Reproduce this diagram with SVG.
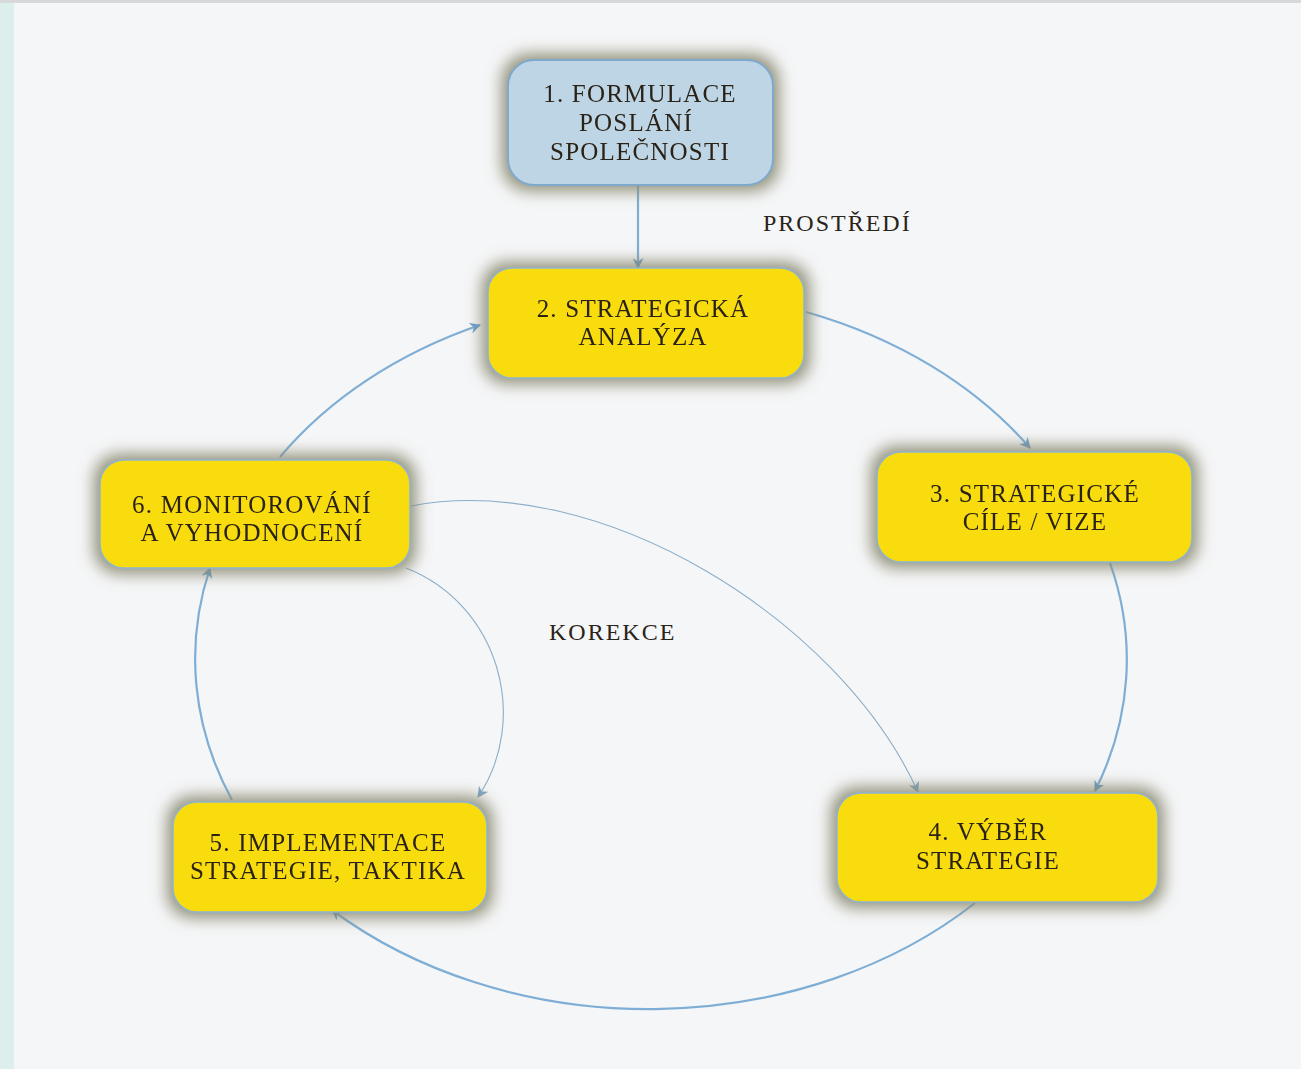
<svg xmlns="http://www.w3.org/2000/svg" width="1301" height="1069" viewBox="0 0 1301 1069">
<style>
.box{fill:#f9dc0c;stroke:#8fb3cf;stroke-width:1.5}
.box1{fill:#bed5e6;stroke:#7fa9cc;stroke-width:2}
.t{font-family:"Liberation Serif","Times New Roman",serif;font-size:25px;letter-spacing:1.2px;fill:#2a2418;text-anchor:middle}
.lab{font-family:"Liberation Serif","Times New Roman",serif;font-size:24px;letter-spacing:2px;fill:#2a2418}
.c{fill:none;stroke:#7eaed6;stroke-width:2.2;marker-end:url(#ah)}
.k{fill:none;stroke:#8aaecb;stroke-width:1.1;marker-end:url(#ahs)}
</style>
<defs>
<filter id="glow" x="-25%" y="-40%" width="150%" height="180%">
<feMorphology in="SourceAlpha" operator="dilate" radius="5" result="d"/>
<feGaussianBlur in="d" stdDeviation="8" result="b"/>
<feFlood flood-color="#8a8a72" flood-opacity="0.95"/>
<feComposite in2="b" operator="in" result="s"/>
<feMerge><feMergeNode in="s"/><feMergeNode in="SourceGraphic"/></feMerge>
</filter>
<marker id="ah" viewBox="0 0 10 10" refX="9" refY="5" markerWidth="5" markerHeight="5" orient="auto" markerUnits="strokeWidth">
<path d="M0,0 L10,5 L0,10 L3,5 Z" fill="#6a9fcc"/>
</marker>
<marker id="ahs" viewBox="0 0 10 10" refX="9" refY="5" markerWidth="10" markerHeight="10" orient="auto" markerUnits="strokeWidth">
<path d="M0,0 L10,5 L0,10 L3,5 Z" fill="#7fa6c6"/>
</marker>
</defs>
<rect x="0" y="0" width="1301" height="1069" fill="#f5f6f7"/>
<rect x="0" y="0" width="14" height="1069" fill="#dcefed"/>
<line x1="0" y1="1.5" x2="1301" y2="1.5" stroke="#d6d8da" stroke-width="3"/>

<g id="connectors">
<path class="c" d="M638,186 L638,268"/>
<path class="c" d="M806,312 A460 360 0 0 1 1030,448"/>
<path class="c" d="M1110,563 A460 360 0 0 1 1095,791"/>
<path class="c" d="M975,903 A460 360 0 0 1 332,910"/>
<path class="c" d="M232,800 A460 360 0 0 1 210,568"/>
<path class="c" d="M280,457 A460 360 0 0 1 480,325"/>
<path class="k" d="M411,506 C600,470 840,620 918,792"/>
<path class="k" d="M406,568 C500,605 530,720 478,797"/>
</g>

<g id="node1" filter="url(#glow)">
<rect class="box1" x="508" y="60" width="265" height="125" rx="26"/>
<text class="t" x="640" y="102">1. FORMULACE</text>
<text class="t" x="636" y="131">POSLÁNÍ</text>
<text class="t" x="640" y="160">SPOLEČNOSTI</text>
</g>
<g id="node2" filter="url(#glow)">
<rect class="box" x="488" y="268" width="316" height="110" rx="24"/>
<text class="t" x="643" y="317">2. STRATEGICKÁ</text>
<text class="t" x="643" y="345">ANALÝZA</text>
</g>
<g id="node3" filter="url(#glow)">
<rect class="box" x="877" y="452" width="315" height="110" rx="24"/>
<text class="t" x="1035" y="502">3. STRATEGICKÉ</text>
<text class="t" x="1035" y="530">CÍLE / VIZE</text>
</g>
<g id="node4" filter="url(#glow)">
<rect class="box" x="837" y="793" width="321" height="109" rx="24"/>
<text class="t" x="988" y="840">4. VÝBĚR</text>
<text class="t" x="988" y="869">STRATEGIE</text>
</g>
<g id="node5" filter="url(#glow)">
<rect class="box" x="173" y="802" width="314" height="110" rx="24"/>
<text class="t" x="328" y="851">5. IMPLEMENTACE</text>
<text class="t" x="328" y="879">STRATEGIE, TAKTIKA</text>
</g>
<g id="node6" filter="url(#glow)">
<rect class="box" x="100" y="460" width="310" height="108" rx="24"/>
<text class="t" x="252" y="513">6. MONITOROVÁNÍ</text>
<text class="t" x="252" y="541">A VYHODNOCENÍ</text>
</g>

<text class="lab" x="763" y="231">PROSTŘEDÍ</text>
<text class="lab" x="549" y="640">KOREKCE</text>
</svg>
